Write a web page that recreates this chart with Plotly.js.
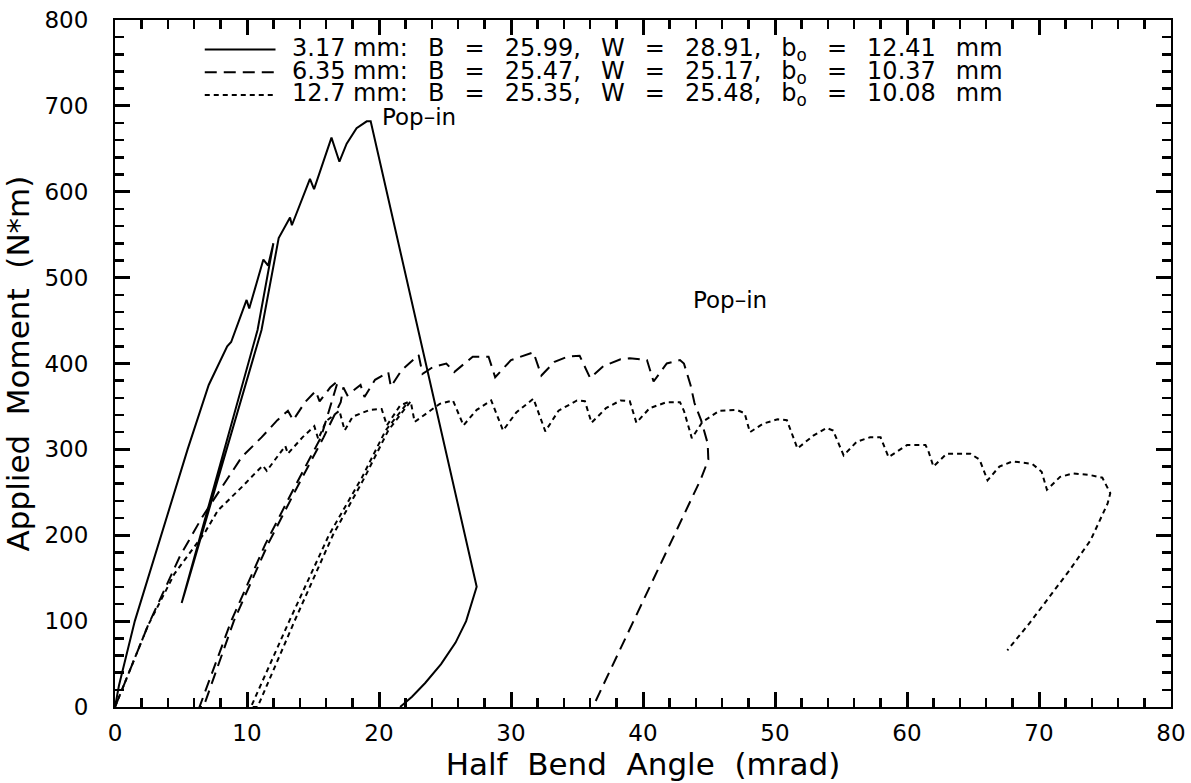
<!DOCTYPE html>
<html>
<head>
<meta charset="utf-8">
<script src="https://cdn.plot.ly/plotly-3.0.1.min.js"></script>
<style>
  html, body { margin: 0; padding: 0; background: #ffffff; }
  #chart { width: 1191px; height: 783px; }
</style>
</head>
<body>
<div id="chart"></div>
<script>
// ---- Data ----
// 3.17 mm specimen (solid)
const angle317 = [0, 0.3, 1.5, 3.5, 5.5, 7.1, 8.5, 8.8, 9.97, 10.17, 11.24, 11.6, 12.0,
  10.8, 5.05, 5.3, 11.1, 12.4, 13.26, 13.4, 14.77, 15.08, 16.4, 17.0, 17.55, 18.3, 19.07, 19.37,
  27.4, 26.6, 25.8, 24.7, 23.5, 22.5, 21.6];
const moment317 = [0, 25, 100, 200, 300, 375, 420, 425, 474, 464, 521, 514, 540,
  439, 121, 134, 439, 546, 570, 561, 615, 603, 663, 635, 656, 674, 682, 682,
  140, 100, 75, 50, 28, 12, 0];

// 6.35 mm specimen (long dash)
const angle635 = [0, 0.9, 2.5, 4.9, 6.6, 8.7, 9.6, 11.1, 12.3, 13.1, 13.5, 14.4, 15.2, 15.5, 16.3, 16.9,
  15.6, 13.5, 11.4, 8.8, 6.4,
  6.7, 9.0, 11.6, 13.7, 15.8, 17.1, 17.3,
  17.6, 18.6, 18.9, 19.7, 20.7, 20.9, 21.7, 23.0, 23.3, 24.1, 25.1, 25.7, 27.1, 28.3, 28.8,
  30.0, 31.7, 32.3, 33.3, 34.3, 35.2, 36.0, 37.0, 38.3, 39.0, 40.3, 40.8, 41.8, 42.8, 43.1,
  43.6, 43.9, 44.4, 44.9, 44.95, 44.4, 36.2];
const moment635 = [0, 35, 95, 175, 221, 270, 291, 314, 334, 345, 334, 355, 368, 356, 372, 380,
  314, 253, 190, 100, 0,
  0, 100, 190, 253, 314, 355, 372,
  363, 375, 361, 381, 390, 373, 392, 410, 388, 396, 400, 390, 408, 408, 384,
  404, 413, 386, 402, 408, 409, 383, 397, 405, 406, 404, 379, 400, 404, 400,
  375, 354, 334, 307, 288, 266, 0];

// 12.7 mm specimen (short dash)
const angle127 = [0, 1.2, 2.5, 4.5, 6.8, 7.8, 8.9, 9.6, 10.6, 11.2, 11.5, 12.1, 12.9, 13.1, 14.2, 15.1, 15.4,
  16.0, 17.0, 17.4, 18.0, 19.3, 20.2, 20.6, 21.6, 22.2,
  20.5, 18.7, 16.2, 13.2, 10.3,
  10.8, 13.6, 16.5, 18.9, 20.7, 22.4,
  22.7, 23.6, 24.6, 25.6, 26.4, 27.4, 28.5, 29.4, 30.4, 31.7, 32.6, 33.6, 35.0, 35.6, 36.1,
  37.2, 38.3, 39.0, 39.5, 40.5, 41.8, 42.8, 43.1, 43.7, 44.5, 45.8, 47.1, 47.7, 48.1,
  49.1, 50.2, 50.9, 51.7, 52.9, 53.9, 54.4, 55.2, 56.2, 57.2, 58.0, 58.6, 60.0, 61.4, 61.6, 62.0,
  63.0, 64.8, 65.5, 66.1, 67.0, 68.0, 69.5, 70.2, 70.6, 71.6, 72.6, 73.9, 74.8, 75.4, 75.2,
  73.9, 72.3, 70.8, 69.3, 67.6];
const moment127 = [0, 45, 95, 155, 203, 229, 245, 256, 272, 281, 275, 287, 304, 295, 314, 327, 312,
  333, 345, 322, 338, 346, 347, 328, 351, 355,
  322, 267, 200, 100, 0,
  0, 100, 200, 267, 322, 356,
  332, 342, 353, 357, 328, 346, 357, 322, 343, 359, 321, 345, 357, 356, 331,
  348, 357, 356, 331, 348, 355, 355, 345, 313, 332, 345, 346, 342, 320,
  330, 335, 334, 301, 316, 325, 322, 293, 309, 314, 314, 291, 305, 305, 299, 280,
  295, 295, 288, 264, 280, 286, 283, 274, 253, 268, 272, 270, 267, 249, 237,
  194, 159, 128, 98, 66];

const NB = '\u00a0\u00a0\u2009';
const seriesNames = [
  '3.17\u00a0mm:' + NB + 'B' + NB + '=' + NB + '25.99,' + NB + 'W' + NB + '=' + NB + '28.91,' + NB + 'b<sub>o</sub>' + NB + '=' + NB + '12.41' + NB + 'mm',
  '6.35\u00a0mm:' + NB + 'B' + NB + '=' + NB + '25.47,' + NB + 'W' + NB + '=' + NB + '25.17,' + NB + 'b<sub>o</sub>' + NB + '=' + NB + '10.37' + NB + 'mm',
  '12.7\u00a0mm:' + NB + 'B' + NB + '=' + NB + '25.35,' + NB + 'W' + NB + '=' + NB + '25.48,' + NB + 'b<sub>o</sub>' + NB + '=' + NB + '10.08' + NB + 'mm'
];
const popinText = 'Pop\u2013in';
const popinAngles = [20.1, 43.6];
const popinMoments = [687, 474];

const xTitle = 'Half\u00a0\u00a0Bend\u00a0\u00a0Angle\u00a0\u00a0(mrad)';
const yTitle = 'Applied\u00a0\u00a0Moment\u00a0\u00a0(N*m)';

// axis settings
const xRange = [0, 80], xMajor = 10, xMinor = 2;
const yRange = [0, 800], yMajor = 100, yMinor = 20;

// ---- Chart ----
const FONT = '"DejaVu Sans", Lato, sans-serif';
const dashes = ['solid', '12px,7px', '5px,4px'];
const angles = [angle317, angle635, angle127];
const moments = [moment317, moment635, moment127];

const traces = angles.map((a, i) => ({
  x: a, y: moments[i], name: seriesNames[i], mode: 'lines', showlegend: false,
  line: {color: '#000', width: 2, dash: dashes[i]}
}));

// legend built from annotations + sample lines (paper coordinates)
const legendRowsY = [0.957, 0.924, 0.891];
const legendLineX = [0.085, 0.152];
const legendTextX = 0.166;

const shapes = legendRowsY.map((yy, i) => ({
  type: 'line', xref: 'paper', yref: 'paper',
  x0: legendLineX[0], x1: legendLineX[1], y0: yy, y1: yy,
  line: {color: '#000', width: 2, dash: dashes[i]}
}));

const annotations = legendRowsY.map((yy, i) => ({
  xref: 'paper', yref: 'paper', x: legendTextX, y: yy, text: seriesNames[i],
  showarrow: false, xanchor: 'left', yanchor: 'middle',
  font: {family: FONT, size: 24, color: '#000'}
})).concat(popinAngles.map((a, i) => ({
  x: a, y: popinMoments[i], xref: 'x', yref: 'y', text: popinText,
  showarrow: false, xanchor: 'left', yanchor: 'middle',
  font: {family: FONT, size: 23, color: '#000'}
})));

const axisCommon = {
  showgrid: false, zeroline: false, showline: true, linecolor: '#000', linewidth: 2,
  mirror: 'ticks', ticks: 'inside', tickcolor: '#000', tickwidth: 3, ticklen: 15,
  layer: 'above traces',
  tickfont: {family: FONT, size: 23, color: '#000'}
};

const layout = {
  width: 1191, height: 783,
  margin: {l: 115, r: 20, t: 20, b: 76},
  paper_bgcolor: '#fff', plot_bgcolor: '#fff',
  font: {family: FONT, color: '#000'},
  showlegend: false,
  xaxis: Object.assign({}, axisCommon, {
    range: xRange, dtick: xMajor, tick0: 0, ticklabelstandoff: 4,
    minor: {dtick: xMinor, ticks: 'inside', ticklen: 9, tickwidth: 2.5, tickcolor: '#000'},
    title: {text: xTitle, font: {family: FONT, size: 31, color: '#000'}, standoff: 6}
  }),
  yaxis: Object.assign({}, axisCommon, {
    range: yRange, dtick: yMajor, tick0: 0, ticklabelstandoff: 20,
    minor: {dtick: yMinor, ticks: 'inside', ticklen: 9, tickwidth: 2.5, tickcolor: '#000'},
    title: {text: yTitle, font: {family: FONT, size: 31, color: '#000'}, standoff: 8}
  }),
  shapes: shapes,
  annotations: annotations
};

Plotly.newPlot('chart', traces, layout, {displayModeBar: false, staticPlot: true});
</script>
</body>
</html>
